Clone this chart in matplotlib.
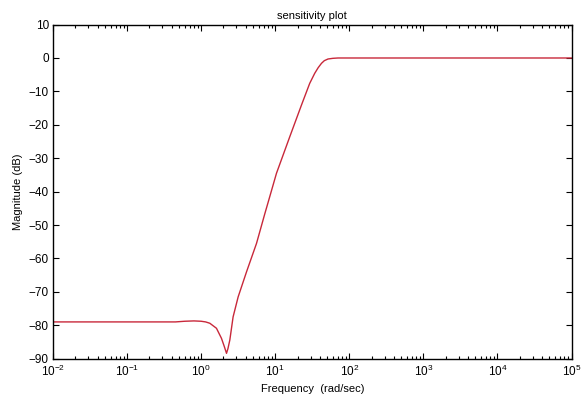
import matplotlib
matplotlib.use("Agg")
import matplotlib.pyplot as plt
from matplotlib.ticker import LogLocator, NullFormatter, FixedLocator

plt.rcParams['font.family'] = ['Liberation Sans', 'DejaVu Sans']
plt.rcParams['mathtext.fontset'] = 'custom'
plt.rcParams['mathtext.rm'] = 'Liberation Sans'
plt.rcParams['mathtext.it'] = 'Liberation Sans'

# Data
freq = [0.01, 0.05, 0.2, 0.45, 0.6, 0.8, 1.0, 1.15, 1.31, 1.61, 1.88, 2.05, 2.2,
        2.3, 2.44, 2.70, 3.16, 4.10, 5.59, 7.24, 8.02, 10.4, 15.7, 22.6, 29.2,
        34.1, 38.0, 42.1, 46.0, 51.6, 60.0, 70.4, 100.0, 1e3, 1e4, 1e5]
mag_db = [-79.0, -79.0, -79.0, -79.0, -78.8, -78.7, -78.8, -79.0, -79.4, -80.9,
          -83.9, -86.3, -88.4, -87.0, -84.4, -77.5, -71.5, -64.0, -55.5, -46.6,
          -43.2, -34.5, -23.6, -14.1, -7.6, -4.6, -2.9, -1.6, -0.8, -0.3, -0.1,
          0.0, 0.0, 0.0, 0.0, 0.0]

title = "sensitivity plot"
xlabel = "Frequency  (rad/sec)"
ylabel = "Magnitude (dB)"
yticks = [10, 0, -10, -20, -30, -40, -50, -60, -70, -80, -90]
xticks = [1e-2, 1e-1, 1e0, 1e1, 1e2, 1e3, 1e4, 1e5]

fig = plt.figure(figsize=(5.84, 4.03), dpi=100)
ax = fig.add_axes([0.0907, 0.110, 0.888, 0.829])
ax.plot(freq, mag_db, color='#c8283a', linewidth=1.0)
ax.set_xscale('log')
ax.set_xlim(1e-2, 1e5)
ax.set_ylim(-90, 10)
ax.yaxis.set_major_locator(FixedLocator(yticks))
ax.xaxis.set_major_locator(FixedLocator(xticks))
ax.xaxis.set_minor_locator(LogLocator(base=10, subs=range(2, 10), numticks=100))
ax.xaxis.set_minor_formatter(NullFormatter())
ax.tick_params(which='both', direction='in', top=True, right=True, labelsize=8.5, colors='black')
ax.tick_params(which='major', length=4, width=0.8)
ax.tick_params(which='minor', length=2.5, width=0.8)
ax.tick_params(axis='x', which='major', pad=4)
ax.tick_params(axis='y', which='major', pad=3)
for s in ax.spines.values():
    s.set_linewidth(1.0)
ax.set_title(title, fontsize=8, pad=4)
ax.set_xlabel(xlabel, fontsize=8, labelpad=3)
ax.set_ylabel(ylabel, fontsize=8, labelpad=4)

fig.savefig("out.png", dpi=100)
